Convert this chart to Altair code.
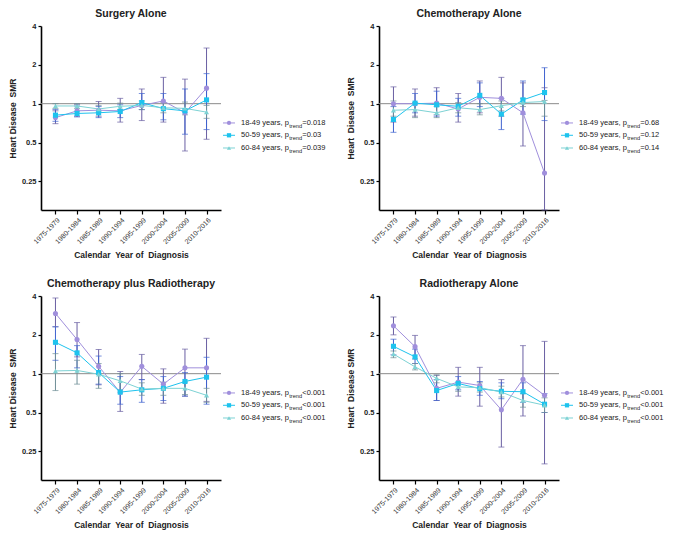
import altair as alt
import pandas as pd

periods = ["1975-1979", "1980-1984", "1985-1989", "1990-1994",
           "1995-1999", "2000-2004", "2005-2009", "2010-2016"]
groups = ["18-49 years", "50-59 years", "60-84 years"]

# Surgery Alone
s1_smr = [0.78, 0.88, 0.89, 0.88, 0.97, 1.05, 0.85, 1.32]
s1_lo = [0.70, 0.80, 0.80, 0.72, 0.74, 0.72, 0.43, 0.53]
s1_hi = [0.88, 0.99, 1.04, 1.10, 1.30, 1.60, 1.55, 2.70]
s2_smr = [0.815, 0.84, 0.85, 0.87, 1.02, 0.915, 0.88, 1.07]
s2_lo = [0.73, 0.79, 0.78, 0.78, 0.90, 0.75, 0.58, 0.63]
s2_hi = [0.90, 0.96, 0.95, 0.98, 1.20, 1.20, 1.30, 1.71]
s3_smr = [0.96, 0.96, 0.91, 0.955, 0.97, 0.93, 0.92, 0.86]
s3_lo = [0.92, 0.92, 0.86, 0.90, 0.90, 0.85, 0.82, 0.77]
s3_hi = [1.00, 1.00, 0.97, 1.01, 1.05, 1.02, 1.03, 0.97]

# Chemotherapy Alone
c1_smr = [1.00, 1.00, 1.01, 0.91, 1.12, 1.10, 0.85, 0.29]
c1_lo = [0.72, 0.80, 0.82, 0.72, 0.85, 0.80, 0.47, 0.15]
c1_hi = [1.35, 1.30, 1.33, 1.20, 1.50, 1.60, 1.45, 1.33]
c2_smr = [0.755, 1.01, 0.98, 0.955, 1.16, 0.83, 1.07, 1.22]
c2_lo = [0.60, 0.85, 0.80, 0.80, 0.95, 0.63, 0.83, 0.74]
c2_hi = [0.95, 1.20, 1.25, 1.10, 1.45, 1.10, 1.50, 1.90]
c3_smr = [0.89, 0.90, 0.85, 0.93, 0.90, 0.965, 1.02, 1.04]
c3_lo = [0.80, 0.78, 0.78, 0.85, 0.82, 0.88, 0.95, 0.80]
c3_hi = [1.05, 1.02, 0.95, 1.02, 1.00, 1.05, 1.10, 1.06]

# Chemotherapy plus Radiotherapy
cr1_smr = [2.93, 1.84, 1.14, 0.717, 1.14, 0.83, 1.11, 1.11]
cr1_lo = [2.31, 1.35, 0.82, 0.51, 0.90, 0.59, 0.67, 0.61]
cr1_hi = [3.86, 2.49, 1.54, 1.04, 1.41, 1.09, 1.55, 1.88]
cr2_smr = [1.75, 1.45, 1.02, 0.72, 0.75, 0.77, 0.87, 0.94]
cr2_lo = [1.27, 1.11, 0.83, 0.58, 0.60, 0.62, 0.67, 0.58]
cr2_hi = [2.31, 1.65, 1.37, 0.95, 0.90, 0.95, 1.02, 1.34]
cr3_smr = [1.05, 1.06, 0.99, 0.88, 0.76, 0.77, 0.77, 0.68]
cr3_lo = [0.74, 0.83, 0.77, 0.75, 0.68, 0.68, 0.69, 0.60]
cr3_hi = [1.43, 1.27, 1.20, 1.00, 0.85, 0.86, 0.86, 0.77]

# Radiotherapy Alone
r1_smr = [2.35, 1.62, 0.77, 0.86, 0.81, 0.525, 0.905, 0.68]
r1_lo = [2.00, 1.30, 0.62, 0.67, 0.56, 0.27, 0.47, 0.20]
r1_hi = [2.75, 1.98, 0.97, 1.12, 1.12, 0.90, 1.65, 1.78]
r2_smr = [1.63, 1.35, 0.74, 0.84, 0.765, 0.73, 0.725, 0.58]
r2_lo = [1.40, 1.20, 0.62, 0.75, 0.68, 0.64, 0.60, 0.50]
r2_hi = [1.85, 1.55, 0.90, 0.95, 0.87, 0.85, 0.85, 0.70]
r3_smr = [1.42, 1.13, 0.92, 0.79, 0.78, 0.72, 0.62, 0.57]
r3_lo = [1.33, 1.07, 0.85, 0.73, 0.72, 0.66, 0.55, 0.50]
r3_hi = [1.50, 1.20, 0.98, 0.85, 0.85, 0.80, 0.70, 0.65]

p_surgery = ["=0.018", "=0.03", "=0.039"]
p_chemo = ["=0.68", "=0.12", "=0.14"]
p_chemorad = ["<0.001", "<0.001", "<0.001"]
p_radio = ["<0.001", "<0.001", "<0.001"]

y_ticks = [0.25, 0.5, 1, 2, 4]

colors = ["#a08fdc", "#1ec3ee", "#7dd2d4"]
ci_colors = ["#6a5fa3", "#3f62cf", "#6e8e96"]
shapes = ["circle", "square", "triangle-up"]

W, H = 180, 184
FONT = "Liberation Sans"

AW = {' ': 278, ',': 278, '-': 333, '.': 278, '<': 584, '=': 584, 'a': 556,
      'd': 556, 'e': 556, 'n': 556, 'p': 556, 'r': 333, 's': 500, 't': 278,
      'y': 500}


def tw(s, size):
    return sum(AW.get(ch, 556) for ch in s) / 1000.0 * size


def one():
    return alt.Chart(pd.DataFrame({"d": [0]}))


def panel(title, series, ptexts, ytitle):
    rows = []
    for g, (s, lo, hi) in zip(groups, series):
        for i, p in enumerate(periods):
            rows.append({"period": p, "group": g, "smr": s[i], "lo": lo[i], "hi": hi[i]})
    df = pd.DataFrame(rows)
    base = alt.Chart(df)
    yscale = alt.Scale(type="log", domain=[0.15, 4], nice=False)
    yaxis = alt.Axis(title=ytitle, values=y_ticks, format="~g", labelFontSize=7.5,
                     labelFontWeight="bold", labelColor="#222", titleFontSize=8.5,
                     titleFontWeight="bold", titleColor="#222", domainColor="black",
                     domainWidth=1.6, tickColor="black", tickSize=3, tickWidth=1.2,
                     labelPadding=2, titlePadding=4, grid=False)
    xenc = alt.X("period:N", sort=periods,
                 scale=alt.Scale(type="point", padding=0.67),
                 axis=alt.Axis(title="Calendar\u00a0 Year of\u00a0 Diagnosis", labelAngle=-45,
                               labelFontSize=7, labelColor="#333", titleFontSize=8.5,
                               titleFontWeight="bold", titleColor="#222",
                               domainColor="black", domainWidth=1.6, tickColor="black",
                               tickSize=4, tickWidth=1.2, titlePadding=6, grid=False))
    cscale = alt.Scale(domain=groups, range=colors)
    ciscale = alt.Scale(domain=groups, range=ci_colors)

    ref = alt.Chart(pd.DataFrame({"v": [1]})).mark_rule(color="#8a8a8a", strokeWidth=1).encode(
        y=alt.Y("v:Q", scale=yscale, axis=yaxis))
    bars = base.mark_rule(strokeWidth=1).encode(
        x=xenc, y=alt.Y("lo:Q", scale=yscale, axis=yaxis), y2="hi:Q",
        color=alt.Color("group:N", scale=ciscale, legend=None))
    cap_lo = base.mark_tick(thickness=1, size=6).encode(
        x=xenc, y=alt.Y("lo:Q", scale=yscale, axis=yaxis),
        color=alt.Color("group:N", scale=ciscale, legend=None))
    cap_hi = base.mark_tick(thickness=1, size=6).encode(
        x=xenc, y=alt.Y("hi:Q", scale=yscale, axis=yaxis),
        color=alt.Color("group:N", scale=ciscale, legend=None))
    lines = base.mark_line(strokeWidth=1).encode(
        x=xenc, y=alt.Y("smr:Q", scale=yscale, axis=yaxis),
        color=alt.Color("group:N", scale=cscale, legend=None), detail="group:N")
    pts = base.mark_point(filled=True, size=26, opacity=1).encode(
        x=xenc, y=alt.Y("smr:Q", scale=yscale, axis=yaxis),
        color=alt.Color("group:N", scale=cscale, legend=None),
        shape=alt.Shape("group:N", scale=alt.Scale(domain=groups, range=shapes), legend=None))

    layers = [ref, bars, cap_lo, cap_hi, lines, pts]
    fracs = [0.527, 0.594, 0.663]
    fs, fsub = 7.5, 5.6
    for i, g in enumerate(groups):
        yy = H * fracs[i]
        layers.append(one().mark_rule(color=colors[i], strokeWidth=1).encode(
            x=alt.value(W + 2), x2=alt.value(W + 14), y=alt.value(yy)))
        layers.append(one().mark_point(filled=True, size=18, opacity=1, color=colors[i],
                                       shape=shapes[i]).encode(
            x=alt.value(W + 8), y=alt.value(yy)))
        main = g + ", p"
        x0 = W + 20
        layers.append(one().mark_text(text=main, font=FONT, fontSize=fs, align="left",
                                      baseline="middle", color="#222").encode(
            x=alt.value(x0), y=alt.value(yy)))
        x1 = x0 + tw(main, fs) + 0.3
        layers.append(one().mark_text(text="trend", font=FONT, fontSize=fsub, align="left",
                                      baseline="middle", color="#222").encode(
            x=alt.value(x1), y=alt.value(yy + 2.6)))
        x2 = x1 + tw("trend", fsub) + 0.3
        layers.append(one().mark_text(text=ptexts[i], font=FONT, fontSize=fs, align="left",
                                      baseline="middle", color="#222").encode(
            x=alt.value(x2), y=alt.value(yy)))

    return alt.layer(*layers).resolve_scale(color="independent").properties(
        width=W, height=H,
        title=alt.TitleParams(title, fontSize=10.5, fontWeight="bold", anchor="middle",
                              frame="group", offset=3, color="#222", font=FONT))


p1 = panel("Surgery Alone", [(s1_smr, s1_lo, s1_hi), (s2_smr, s2_lo, s2_hi), (s3_smr, s3_lo, s3_hi)],
           p_surgery, "Heart Disease\u00a0 SMR")
p2 = panel("Chemotherapy Alone", [(c1_smr, c1_lo, c1_hi), (c2_smr, c2_lo, c2_hi), (c3_smr, c3_lo, c3_hi)],
           p_chemo, "Heart\u00a0 Disease\u00a0 SMR")
p3 = panel("Chemotherapy plus Radiotherapy",
           [(cr1_smr, cr1_lo, cr1_hi), (cr2_smr, cr2_lo, cr2_hi), (cr3_smr, cr3_lo, cr3_hi)],
           p_chemorad, "Heart Disease\u00a0 SMR")
p4 = panel("Radiotherapy Alone", [(r1_smr, r1_lo, r1_hi), (r2_smr, r2_lo, r2_hi), (r3_smr, r3_lo, r3_hi)],
           p_radio, "Heart\u00a0 Disease SMR")

chart = alt.vconcat(
    alt.hconcat(p1, p2, spacing=20),
    alt.hconcat(p3, p4, spacing=20),
    spacing=18,
).properties(padding={"left": 0, "top": 0, "right": 0, "bottom": 0}).configure(
    font=FONT).configure_view(stroke=None)

chart.save("out.html", embed_options={"renderer": "svg", "actions": False})
